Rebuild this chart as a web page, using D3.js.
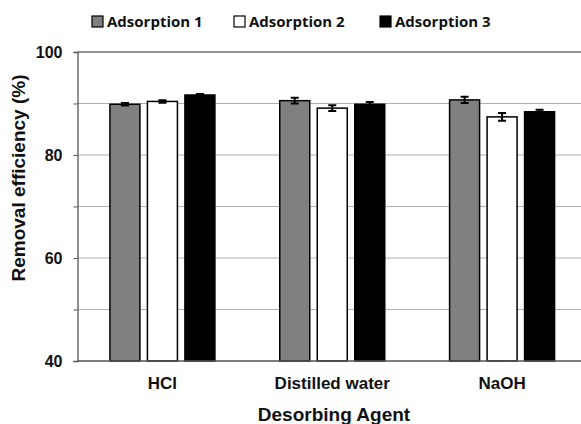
<!DOCTYPE html>
<html><head><meta charset="utf-8">
<script src="https://cdn.jsdelivr.net/npm/d3@7"></script>
<style>
body{margin:0;background:#fff}svg{display:block}
.ar{font-family:Arial,"Liberation Sans",Helvetica,sans-serif;font-weight:bold;fill:#111}
.leg{font-family:"Open Sans",sans-serif;font-weight:bold;fill:#111}
</style>
</head><body>
<svg id="c" width="581" height="424"></svg>
<script>
const categories = ["HCl", "Distilled water", "NaOH"];
const seriesNames = ["Adsorption 1", "Adsorption 2", "Adsorption 3"];
const adsorption1 = [89.85, 90.55, 90.7];
const adsorption2 = [90.4, 89.1, 87.4];
const adsorption3 = [91.65, 89.85, 88.4];
const error1 = [0.25, 0.55, 0.6];
const error2 = [0.25, 0.55, 0.75];
const error3 = [0.2, 0.45, 0.4];
const yTickLabels = [40, 60, 80, 100];
const yGrid = [50, 60, 70, 80, 90];

const values = [adsorption1, adsorption2, adsorption3];
const errors = [error1, error2, error3];
const fills = ["#808080", "#ffffff", "#000000"];

const svg = d3.select("#c");
const L = 77.5, R = 587, T = 52, B = 361;
const x = d3.scaleBand().domain(categories).range([L, R]);
const xs = d3.scaleBand().domain(seriesNames).range([-52.5, 52.5]).paddingInner(0.2);
const y = d3.scaleLinear().domain([40, 100]).range([B, T]);

// gridlines
svg.append("g").selectAll("line").data(yGrid).join("line")
  .attr("x1", L).attr("x2", 581).attr("y1", d => y(d)).attr("y2", d => y(d))
  .attr("stroke", "#b0b0b0").attr("stroke-width", 1.2);
svg.append("line").attr("x1", L).attr("x2", 581).attr("y1", y(100)).attr("y2", y(100))
  .attr("stroke", "#707070").attr("stroke-width", 1.5);

// y axis
const yAxis = d3.axisLeft(y).tickValues(d3.range(40, 101, 10)).tickSize(4)
  .tickFormat(d => yTickLabels.includes(d) ? d : "");
const ga = svg.append("g").attr("transform", `translate(${L},0)`).call(yAxis);
ga.select(".domain").attr("stroke", "#555").attr("stroke-width", 1.3);
ga.selectAll(".tick line").attr("stroke", "#555");
ga.selectAll(".tick text").attr("class", "ar").attr("font-size", 16).attr("x", -15);

// bars
const groups = svg.append("g").selectAll("g").data(categories).join("g")
  .attr("transform", d => `translate(${x(d) + x.bandwidth() / 2},0)`);
seriesNames.forEach((s, si) => {
  groups.append("rect")
    .attr("x", xs(s)).attr("width", xs.bandwidth())
    .attr("y", (d, i) => y(values[si][i]))
    .attr("height", (d, i) => y(40) - y(values[si][i]))
    .attr("fill", fills[si]).attr("stroke", "#000").attr("stroke-width", 1.5);
  const cx = xs(s) + xs.bandwidth() / 2;
  groups.append("path")
    .attr("d", (d, i) => {
      const v = values[si][i], e = errors[si][i];
      const y1 = y(v + e), y2 = y(v - e);
      return `M${cx},${y1}V${y2}M${cx - 4},${y1}H${cx + 4}M${cx - 4},${y2}H${cx + 4}`;
    })
    .attr("stroke", "#000").attr("stroke-width", 2).attr("fill", "none");
});

// bottom axis line
svg.append("line").attr("x1", L).attr("x2", 581).attr("y1", B).attr("y2", B)
  .attr("stroke", "#555").attr("stroke-width", 1.3);

// x category labels
svg.append("g").selectAll("text").data(categories).join("text")
  .attr("class", "ar")
  .attr("x", d => x(d) + x.bandwidth() / 2).attr("y", 389)
  .attr("text-anchor", "middle").attr("font-size", 17).text(d => d);

svg.append("text").attr("class", "ar").attr("x", 334).attr("y", 421).attr("text-anchor", "middle")
  .attr("font-size", 19).text("Desorbing Agent");

svg.append("text").attr("class", "ar").attr("transform", "translate(25,178) rotate(-90)")
  .attr("text-anchor", "middle").attr("font-size", 19).text("Removal efficiency (%)");

// legend
const legX = [92, 234, 380];
const leg = svg.append("g").selectAll("g").data(seriesNames).join("g")
  .attr("transform", (d, i) => `translate(${legX[i]},16)`);
leg.append("rect").attr("width", 11).attr("height", 11)
  .attr("fill", (d, i) => fills[i]).attr("stroke", "#000").attr("stroke-width", 1.2);
leg.append("text").attr("class", "leg").attr("x", 15).attr("y", 11)
  .attr("font-size", 15).text(d => d);
</script>
</body></html>
